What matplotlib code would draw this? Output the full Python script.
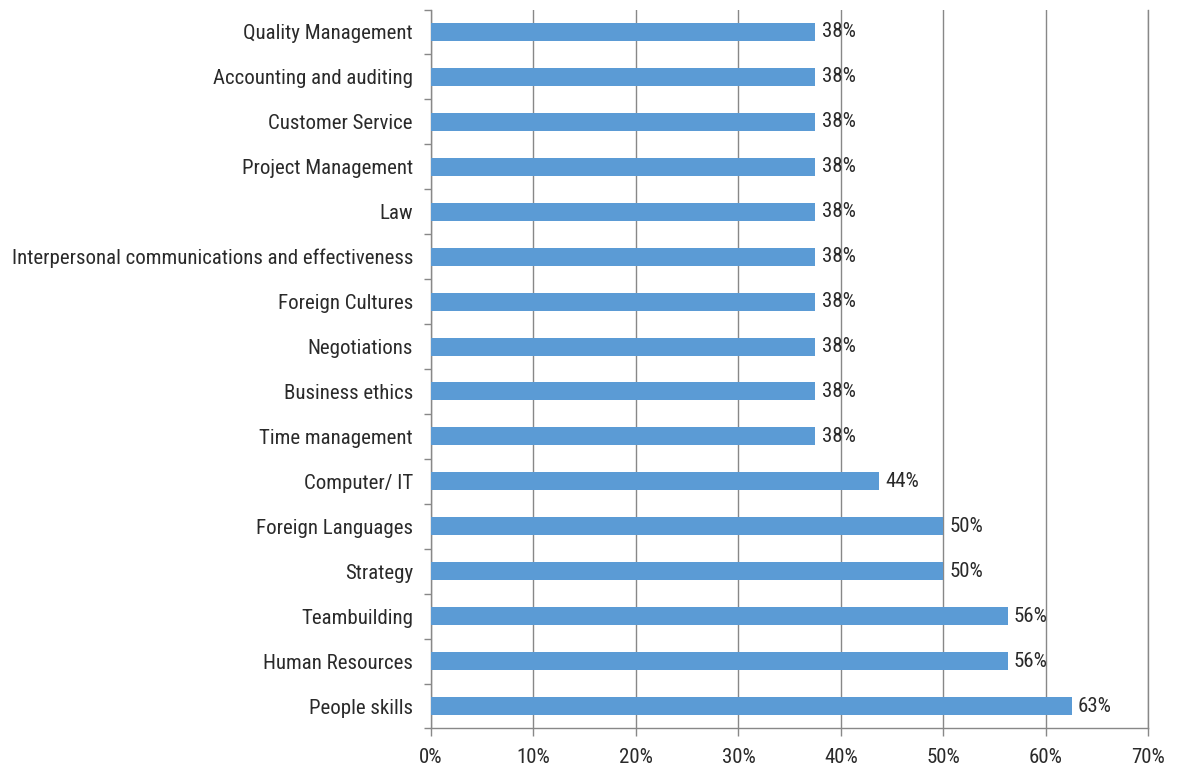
import matplotlib
matplotlib.use("Agg")
import matplotlib.pyplot as plt
from matplotlib.ticker import FixedLocator, PercentFormatter

categories = ["Quality Management", "Accounting and auditing", "Customer Service",
              "Project Management", "Law", "Interpersonal communications and effectiveness",
              "Foreign Cultures", "Negotiations", "Business ethics", "Time management",
              "Computer/ IT", "Foreign Languages", "Strategy", "Teambuilding",
              "Human Resources", "People skills"]
values = [37.5, 37.5, 37.5, 37.5, 37.5, 37.5, 37.5, 37.5, 37.5, 37.5,
          43.75, 50, 50, 56.25, 56.25, 62.5]
value_labels = ["38%"] * 10 + ["44%", "50%", "50%", "56%", "56%", "63%"]
xticks = [0, 10, 20, 30, 40, 50, 60, 70]

plt.rcParams['font.family'] = ["Roboto Condensed", 'DejaVu Sans']
FS = 15
TXT = "#2a2a2a"

fig = plt.figure(figsize=(11.84, 7.73), dpi=100)
ax = fig.add_axes([0.364, 0.0576, 0.970 - 0.364, 0.9877 - 0.0576])

n = len(categories)
ypos = list(range(n))
ax.barh(ypos, values, height=0.4, color="#5B9BD5", zorder=3)
for y, v, lab in zip(ypos, values, value_labels):
    ax.text(v + 0.6, y, lab, va="center", ha="left", fontsize=FS, color=TXT, zorder=4)

ax.set_ylim(n - 0.5, -0.5)
ax.set_xlim(0, 70)
ax.set_yticks(ypos)
ax.set_yticklabels(categories, fontsize=FS, color=TXT)
ax.tick_params(axis="y", which="major", length=0, pad=13)
ax.yaxis.set_minor_locator(FixedLocator([i - 0.5 for i in range(n + 1)]))
ax.tick_params(axis="y", which="minor", length=5, color="#888888", width=1)
ax.set_xticks(xticks)
ax.xaxis.set_major_formatter(PercentFormatter(decimals=0))
ax.tick_params(axis="x", length=6, color="#888888", width=1, labelsize=FS, labelcolor=TXT, pad=8)
ax.grid(axis="x", color="#888888", linewidth=1, zorder=0)
ax.spines["top"].set_visible(False)
for s in ["left", "bottom", "right"]:
    ax.spines[s].set_color("#888888")
    ax.spines[s].set_linewidth(1)

fig.savefig("out.png", dpi=100, facecolor="white")
